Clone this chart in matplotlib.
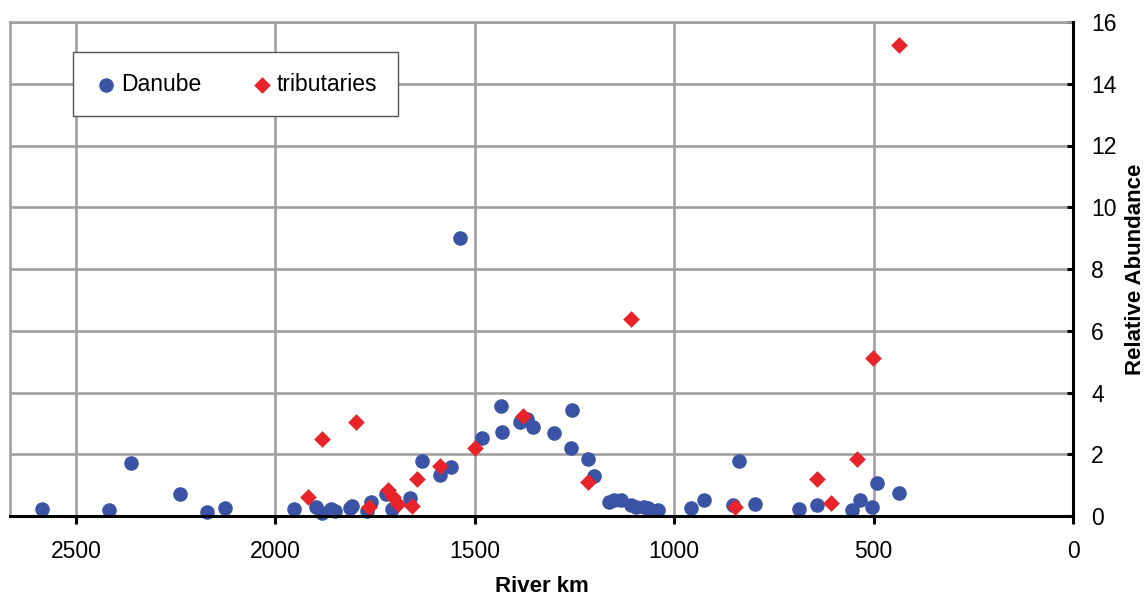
import matplotlib
matplotlib.use("Agg")
import matplotlib.pyplot as plt

plt.rcParams['font.family'] = ['Liberation Sans', 'DejaVu Sans']

# Danube main stem samples (river km, relative abundance)
danube_km = [2585, 2416, 2362, 2238, 2170, 2125, 1953, 1898, 1884, 1861, 1850,
             1813, 1808, 1771, 1760, 1722, 1708, 1661, 1632, 1587, 1560, 1536,
             1481, 1435, 1431, 1386, 1368, 1355, 1301, 1257, 1259, 1217, 1202,
             1163, 1150, 1133, 1108, 1095, 1075, 1066, 1041, 958, 925, 853,
             837, 797, 688, 643, 554, 535, 503, 492, 437]
danube_val = [0.22, 0.20, 1.73, 0.72, 0.13, 0.27, 0.22, 0.30, 0.10, 0.23, 0.15,
              0.25, 0.33, 0.15, 0.45, 0.71, 0.24, 0.58, 1.78, 1.34, 1.59, 9.0,
              2.54, 3.57, 2.72, 3.03, 3.14, 2.89, 2.70, 3.44, 2.21, 1.83, 1.31,
              0.44, 0.52, 0.52, 0.36, 0.28, 0.28, 0.25, 0.20, 0.26, 0.51, 0.35,
              1.78, 0.38, 0.22, 0.37, 0.19, 0.52, 0.28, 1.08, 0.76]

# Tributary samples
trib_km = [1917, 1884, 1797, 1766, 1718, 1705, 1692, 1657, 1644, 1587, 1500,
           1380, 1215, 1108, 847, 641, 607, 541, 502, 437]
trib_val = [0.63, 2.51, 3.04, 0.30, 0.85, 0.60, 0.40, 0.34, 1.20, 1.61, 2.21,
            3.25, 1.09, 6.37, 0.29, 1.19, 0.41, 1.84, 5.11, 15.24]

x_ticks = [2500, 2000, 1500, 1000, 500, 0]
y_ticks = [0, 2, 4, 6, 8, 10, 12, 14, 16]

blue = '#3a53a4'
red = '#e8232a'
grid_col = '#a0a0a0'

fig = plt.figure(figsize=(11.47, 5.97), dpi=100)
ax = fig.add_axes([10/1147, 1 - 516/597, (1073 - 10)/1147, (516 - 22)/597])

ax.scatter(danube_km, danube_val, s=110, marker='o', color=blue,
           linewidths=0, label='Danube', zorder=3, clip_on=False)
ax.scatter(trib_km, trib_val, s=72, marker='D', color=red,
           linewidths=0, label='tributaries', zorder=4, clip_on=False)

ax.set_xlim(2665, 0)
ax.set_ylim(0, 16)
ax.set_xticks(x_ticks)
ax.set_yticks(y_ticks)

ax.yaxis.tick_right()
ax.yaxis.set_label_position('right')
ax.grid(True, color=grid_col, linewidth=1.9, zorder=0)
ax.set_axisbelow(True)

for side in ['left', 'top']:
    ax.spines[side].set_color(grid_col)
    ax.spines[side].set_linewidth(1.9)
for side in ['bottom', 'right']:
    ax.spines[side].set_color('black')
    ax.spines[side].set_linewidth(2.2)
    ax.spines[side].set_zorder(5)

ax.tick_params(axis='x', direction='out', length=6, width=2.2, pad=11,
               labelsize=16.5, colors='black')
ax.tick_params(axis='y', direction='in', length=4.5, width=2.2, pad=13,
               labelsize=16.5, left=False, right=True)

ax.set_xlabel('River km', fontsize=16, fontweight='bold', labelpad=10)
ax.set_ylabel('Relative Abundance', fontsize=16, fontweight='bold',
              labelpad=6)

leg = ax.legend(loc='upper left', bbox_to_anchor=(0.059, 0.939), ncol=2,
                fontsize=16.5, frameon=True, fancybox=False, borderaxespad=0,
                borderpad=0.9, handlelength=1.1, handletextpad=0.1,
                columnspacing=2.1, scatterpoints=1)
leg.get_frame().set_edgecolor('#555555')
leg.get_frame().set_linewidth(1.0)
leg.get_frame().set_alpha(1)

fig.savefig('out.png', dpi=100)
